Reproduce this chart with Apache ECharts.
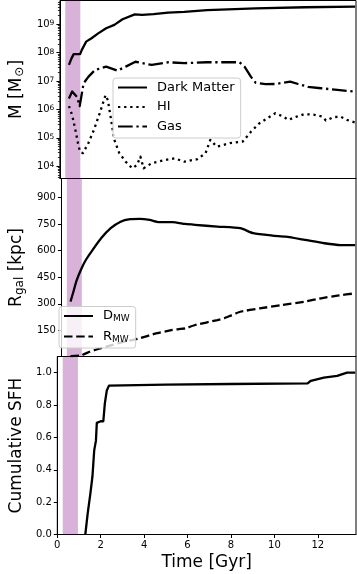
<!DOCTYPE html>
<html><head><meta charset="utf-8">
<script src="https://cdn.jsdelivr.net/npm/echarts@6/dist/echarts.min.js"></script>
<style>html,body{margin:0;padding:0;background:#fff}#c{width:357px;height:574px}</style>
</head><body><div id="c"></div>
<script>
// ---- data ----
const dmTime = [0.42,0.54,0.64,0.94,1.02,1.22,1.47,1.78,2.15,2.53,2.91,3.48,3.82,4.35,5.03,5.78,6.84,9.1,11.4,13.72];
const dmMass = [3.72e7,6.31e7,8.91e7,8.91e7,1.26e8,2.45e8,3.24e8,4.79e8,7.24e8,9.55e8,1.51e9,2.24e9,2.14e9,2.29e9,2.57e9,2.75e9,3.16e9,3.63e9,3.98e9,4.17e9];

const hiTime = [0.42,0.57,0.72,0.84,0.94,1.07,1.32,1.58,1.85,2.12,2.23,2.38,2.53,2.76,3.06,3.36,3.59,3.74,3.89,4.27,4.88,5.33,5.78,6.39,6.77,6.99,7.29,7.9,8.5,8.88,9.26,9.64,10.01,10.39,10.62,11.0,11.37,11.83,12.2,12.36,12.73,13.04,13.34,13.72];
const hiMass = [1.32e6,6.3e5,1.9e5,6.5e4,3.2e4,2.9e4,6.5e4,1.9e5,7.4e5,3.2e6,2.1e6,4.3e5,8.5e4,2.9e4,1.45e4,8.5e3,1.12e4,2.2e4,8.5e3,1.29e4,1.66e4,1.9e4,1.45e4,1.78e4,2.9e4,8.5e4,4.9e4,6.5e4,7.4e4,1.66e5,3.2e5,4.9e5,7.4e5,5.6e5,4.3e5,5.6e5,6.9e5,6.5e5,5.6e5,4.1e5,5.4e5,5.6e5,4.3e5,3.5e5];

const gasTime = [0.42,0.57,0.64,0.79,0.92,1.10,1.32,1.63,2.15,2.68,3.06,3.51,4.27,5.02,5.78,6.84,8.35,8.58,8.88,9.10,9.56,10.01,10.70,11.07,11.53,12.13,12.89,13.64,13.72];
const gasMass = [2.45e6,4.3e6,4.9e6,2.8e6,1.32e6,8.3e6,1.41e7,2.45e7,3.24e7,2.34e7,3.24e7,4.8e7,3.7e7,4.6e7,4.3e7,4.6e7,4.6e7,3.24e7,1.41e7,8.7e6,7.8e6,7.9e6,9.5e6,7.9e6,6.3e6,5.6e6,4.9e6,4.3e6,4.2e6];

const dmwTime = [0.42,0.55,0.7,0.94,1.15,1.4,1.85,2.3,2.76,3.21,3.66,4.12,4.57,5.18,5.78,6.24,7.29,8.35,8.96,9.86,10.47,11.37,12.28,13.04,13.72];
const dmwDist = [312,365,430,501,550,595,670,727,764,778,780,774,761,761,751,746,736,727,699,685,679,661,642,632,632];

const rmwTime = [0.42,0.94,1.32,1.8,2.3,2.8,3.3,3.66,4.42,5.18,5.78,6.24,7.29,7.6,8.35,9.26,10.32,11.37,12.13,12.89,13.72];
const rmwDist = [4,9,29,48,65,82,95,105,133,152,161,180,208,218,255,274,293,312,331,346,359];

const sfhTime = [1.29,1.4,1.52,1.62,1.7,1.78,1.82,2.0,2.12,2.19,2.28,2.38,5.0,8.0,11.53,11.68,12.28,12.89,12.96,13.35,13.72];
const sfhFrac = [0,0.13,0.25,0.36,0.52,0.58,0.69,0.70,0.70,0.81,0.89,0.92,0.926,0.93,0.934,0.95,0.97,0.98,0.99,1.0,1.0];

const bandRange = [0.25, 0.95];
const xTicks = [0,2,4,6,8,10,12];
const massTicks = [1e4,1e5,1e6,1e7,1e8,1e9];
const distTicks = [150,300,450,600,750,900];
const sfhTicks = [0,0.2,0.4,0.6,0.8,1.0];

// ---- build ----
const zip = (a,b) => a.map((v,i)=>[v,b[i]]);
const F = 'DejaVu Sans';
const massMin = Math.pow(10,3.57), massMax = Math.pow(10,9.838);
const minorTicks = [];
for (let e=3; e<=9; e++) for (let k=2; k<=9; k++) { const v=k*Math.pow(10,e); if (v>=massMin && v<=massMax) minorTicks.push(v); }

const gridBase = {left:52.5, right:1, height:178, show:true, borderColor:'#000', borderWidth:1, backgroundColor:'transparent'};
const xMax = 13.76;
function xAx(i, bottom){
  return {type:'value', gridIndex:i, min:0, max:xMax,
    axisLine:{show:true, lineStyle:{color:'#000', width:1}},
    splitLine:{show:false},
    axisTick:{show:bottom, customValues:xTicks, length:3.5, lineStyle:{color:'#000'}},
    axisLabel:{show:bottom, customValues:xTicks, color:'#000', fontSize:10, fontFamily:F, margin:6},
    name: bottom ? 'Time [Gyr]' : '', nameLocation:'middle', nameGap:20,
    nameTextStyle:{fontSize:17, color:'#000', fontFamily:F}
  };
}
const lineCommon = {type:'line', showSymbol:false, symbol:'none', animation:false, z:3};
function lstyle(type){ return {color:'#000', width:2.3, type:type, cap:'butt', join:'round'}; }
function band(xi, yi){
  return {type:'line', xAxisIndex:xi, yAxisIndex:yi, data:[], silent:true, z:1,
    markArea:{silent:true, itemStyle:{color:'rgba(128,0,128,0.3)'}, data:[[{xAxis:bandRange[0]},{xAxis:bandRange[1]}]]}};
}
const legendCommon = {orient:'vertical', backgroundColor:'rgba(255,255,255,0.8)', borderColor:'#cccccc', borderWidth:1, borderRadius:3,
  itemWidth:29, itemHeight:12, itemGap:6.5, itemStyle:{color:'transparent', borderWidth:0},
  textStyle:{fontSize:13, color:'#000', fontFamily:F, padding:[0,0,0,5],
    rich:{n:{fontSize:13, fontFamily:F, color:'#000'}, s:{fontSize:9, fontFamily:F, color:'#000', verticalAlign:'bottom', padding:[6,0,0,0]}}}, z:10};

const option = {
  animation:false,
  grid:[ Object.assign({top:0.5}, gridBase), Object.assign({top:178.5}, gridBase), Object.assign({top:356.5}, gridBase) ],
  xAxis:[ xAx(0,false), xAx(1,false), xAx(2,true) ],
  yAxis:[
    {type:'log', logBase:10, gridIndex:0, min:massMin, max:massMax,
      axisLine:{show:true, lineStyle:{color:'#000'}}, splitLine:{show:false},
      axisTick:{customValues:massTicks, length:3.5, lineStyle:{color:'#000'}},
      axisLabel:{customValues:massTicks, margin:5.5, color:'#000',
        formatter:(v)=>'{b|10}{s|'+Math.round(Math.log10(v))+'}',
        rich:{b:{fontSize:10, fontFamily:F, color:'#000', lineHeight:10, verticalAlign:'bottom'},
              s:{fontSize:7.5, fontFamily:F, color:'#000', lineHeight:8, verticalAlign:'top', padding:[0,0,6,0]}}},
      name:'{n|M [M}{s|⊙}{n|]}', nameLocation:'middle', nameGap:31,
      nameTextStyle:{fontSize:17, color:'#000', fontFamily:F,
        rich:{n:{fontSize:17, fontFamily:F, color:'#000'}, s:{fontSize:12, fontFamily:F, color:'#000', verticalAlign:'bottom', padding:[7,0,0,1]}}}},
    {type:'log', logBase:10, gridIndex:0, min:massMin, max:massMax, position:'left',
      axisLine:{show:false}, splitLine:{show:false}, axisLabel:{show:false},
      axisTick:{customValues:minorTicks, length:2, lineStyle:{color:'#000', width:0.8}}},
    {type:'value', gridIndex:1, min:2, max:1008,
      axisLine:{show:true, lineStyle:{color:'#000'}}, splitLine:{show:false},
      axisTick:{customValues:distTicks, length:3.5, lineStyle:{color:'#000'}},
      axisLabel:{customValues:distTicks, margin:5.5, color:'#000', fontSize:10, fontFamily:F},
      name:'{n|R}{s|gal}{n| [kpc]}', nameLocation:'middle', nameGap:31,
      nameTextStyle:{fontSize:17, color:'#000', fontFamily:F,
        rich:{n:{fontSize:17, fontFamily:F, color:'#000'}, s:{fontSize:12, fontFamily:F, color:'#000', verticalAlign:'bottom', padding:[7,0,0,0]}}}},
    {type:'value', gridIndex:2, min:0, max:1.1,
      axisLine:{show:true, lineStyle:{color:'#000'}}, splitLine:{show:false},
      axisTick:{customValues:sfhTicks, length:3.5, lineStyle:{color:'#000'}},
      axisLabel:{customValues:sfhTicks, margin:5.5, color:'#000', fontSize:10, fontFamily:F, formatter:(v)=>v.toFixed(1)},
      name:'Cumulative SFH', nameLocation:'middle', nameGap:28,
      nameTextStyle:{fontSize:17, color:'#000', fontFamily:F}}
  ],
  legend:[
    Object.assign({}, legendCommon, {data:['Dark Matter','HI','Gas'], left:113, top:78, padding:[3,6,5,4]}),
    Object.assign({}, legendCommon, {data:['D_MW','R_MW'], left:59, top:306.5, padding:[3,6,4,4],
      formatter:(n)=>n==='D_MW'?'{n|D}{s|MW}':'{n|R}{s|MW}'})
  ],
  series:[
    band(0,0), band(1,2), band(2,3),
    Object.assign({name:'Dark Matter', xAxisIndex:0, yAxisIndex:0, data:zip(dmTime,dmMass), lineStyle:lstyle('solid')}, lineCommon),
    Object.assign({name:'HI', xAxisIndex:0, yAxisIndex:0, data:zip(hiTime,hiMass), lineStyle:lstyle([2.3,3.8])}, lineCommon),
    Object.assign({name:'Gas', xAxisIndex:0, yAxisIndex:0, data:zip(gasTime,gasMass), lineStyle:lstyle([14.7,3.7,2.3,3.7])}, lineCommon),
    Object.assign({name:'D_MW', xAxisIndex:1, yAxisIndex:2, data:zip(dmwTime,dmwDist), smooth:0.2, lineStyle:lstyle('solid')}, lineCommon),
    Object.assign({name:'R_MW', xAxisIndex:1, yAxisIndex:2, data:zip(rmwTime,rmwDist), smooth:0.1, lineStyle:lstyle([8.5,3.7])}, lineCommon),
    Object.assign({name:'SFH', xAxisIndex:2, yAxisIndex:3, data:zip(sfhTime,sfhFrac), lineStyle:lstyle('solid')}, lineCommon)
  ]
};
const chart = echarts.init(document.getElementById('c'), null, {renderer:'canvas'});
chart.setOption(option);
</script></body></html>
